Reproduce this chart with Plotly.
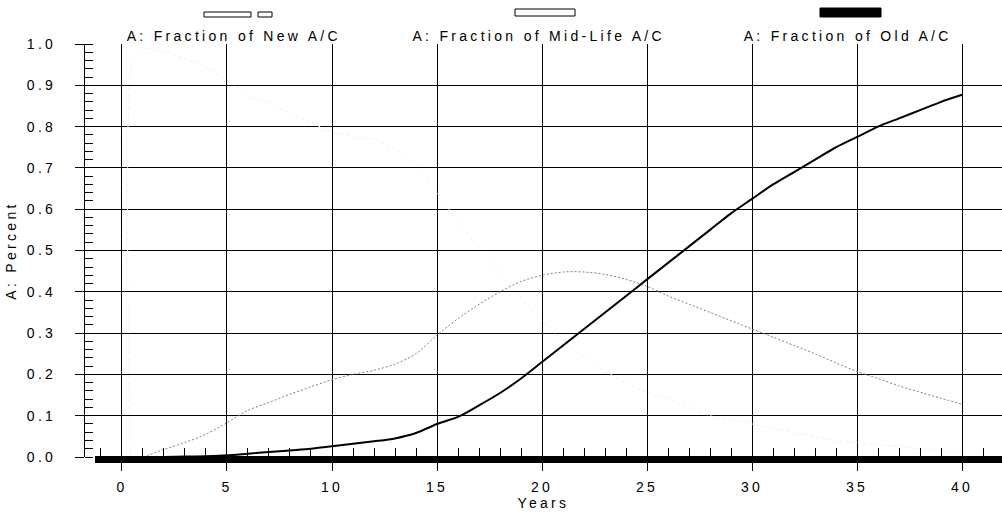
import plotly.graph_objects as go

# ---- data -------------------------------------------------------------
years = list(range(0, 41))

old_frac = [0.0, 0.0, 0.0, 0.001, 0.002, 0.004, 0.008, 0.012, 0.016, 0.020,
            0.026, 0.032, 0.038, 0.045, 0.058, 0.080, 0.097, 0.125, 0.155, 0.190,
            0.230, 0.270, 0.310, 0.350, 0.390, 0.430, 0.470, 0.510, 0.550, 0.590,
            0.625, 0.660, 0.690, 0.720, 0.750, 0.775, 0.800, 0.820, 0.840, 0.860,
            0.877]

mid_years = list(range(1, 41))
mid_frac = [0.000, 0.018, 0.035, 0.055, 0.083, 0.113, 0.132, 0.152, 0.170,
            0.187, 0.200, 0.210, 0.225, 0.250, 0.295, 0.335, 0.370, 0.400, 0.425,
            0.440, 0.448, 0.448, 0.442, 0.430, 0.413, 0.390, 0.370, 0.350, 0.330,
            0.310, 0.290, 0.270, 0.250, 0.228, 0.207, 0.190, 0.172, 0.157, 0.142,
            0.128]

new_years = [0.4, 0.5] + list(range(1, 41))
new_frac = [0.0, 0.96, 0.99, 0.982, 0.964, 0.943, 0.913, 0.877, 0.856, 0.832,
            0.810, 0.787, 0.778, 0.770, 0.745, 0.710, 0.640, 0.570, 0.505, 0.445,
            0.385, 0.330, 0.282, 0.242, 0.208, 0.180, 0.157, 0.140, 0.120, 0.100,
            0.090, 0.080, 0.070, 0.060, 0.050, 0.040, 0.035, 0.030, 0.025, 0.020,
            0.015, 0.010]

x_ticks = [0, 5, 10, 15, 20, 25, 30, 35, 40]
y_ticks = [0.0, 0.1, 0.2, 0.3, 0.4, 0.5, 0.6, 0.7, 0.8, 0.9, 1.0]

series_names = ["A: Fraction of New A/C",
                "A: Fraction of Mid-Life A/C",
                "A: Fraction of Old A/C"]

# ---- page geometry ----------------------------------------------------
W, H = 1002, 514
L, R, T, B = 85, 0, 44, 57
PW, PH = W - L - R, H - T - B


def px(xp):
    return (xp - L) / PW


def py(yp):
    return (H - B - yp) / PH


FONT = "Liberation Sans, Arial, Helvetica, sans-serif"
FS = 14

fig = go.Figure()

fig.add_trace(go.Scatter(
    x=new_years, y=new_frac, mode="lines", name=series_names[0],
    line=dict(color="#f2f2f2", width=1, dash="dot", shape="spline", smoothing=0.6),
    showlegend=False))
fig.add_trace(go.Scatter(
    x=mid_years, y=mid_frac, mode="lines", name=series_names[1],
    line=dict(color="#808080", width=1, dash="2px,2px", shape="spline", smoothing=0.8),
    showlegend=False))
fig.add_trace(go.Scatter(
    x=years, y=old_frac, mode="lines", name=series_names[2],
    line=dict(color="#000000", width=2, shape="spline", smoothing=0.8),
    showlegend=False))

shapes = []
# heavy base bar along the time axis
shapes.append(dict(type="rect", xref="paper", yref="paper",
                   x0=px(95), x1=1.01, y0=py(456), y1=py(463),
                   fillcolor="black", line=dict(width=0), layer="above"))

# legend keys above each label
shapes += [
    dict(type="rect", xref="paper", yref="paper", x0=px(204), x1=px(251),
         y0=py(17), y1=py(12), fillcolor="white", line=dict(color="black", width=1)),
    dict(type="rect", xref="paper", yref="paper", x0=px(258), x1=px(272),
         y0=py(17), y1=py(12), fillcolor="white", line=dict(color="black", width=1)),
    dict(type="rect", xref="paper", yref="paper", x0=px(515), x1=px(575),
         y0=py(16), y1=py(9), fillcolor="white", line=dict(color="black", width=1)),
    dict(type="rect", xref="paper", yref="paper", x0=px(820), x1=px(881),
         y0=py(17), y1=py(8), fillcolor="black", line=dict(color="black", width=1)),
]

annotations = []
for name, cx in zip(series_names, [234, 538, 847]):
    annotations.append(dict(text=name, xref="paper", yref="paper",
                            x=px(cx), y=py(36.5), xanchor="center", yanchor="middle",
                            showarrow=False, font=dict(family=FONT, size=FS, color="black")))

fig.update_layout(
    width=W, height=H,
    margin=dict(l=L, r=R, t=T, b=B, autoexpand=False),
    paper_bgcolor="white", plot_bgcolor="white",
    font=dict(family=FONT, size=FS, color="black"),
    shapes=shapes, annotations=annotations,
    showlegend=False,
)

fig.update_xaxes(
    range=[-1.76, 41.9], tickvals=x_ticks, ticktext=[str(v) for v in x_ticks],
    showgrid=True, gridcolor="black", gridwidth=1, zeroline=False, showline=False,
    ticks="outside", ticklen=13, tickwidth=1, tickcolor="black",
    ticklabelstandoff=4,
    minor=dict(ticks="inside", ticklen=9, tickwidth=1, tickcolor="black",
               dtick=1, tick0=0, showgrid=False),
    title=dict(text="Years", standoff=0, font=dict(family=FONT, size=FS)),
    automargin=False,
)
fig.update_yaxes(
    range=[0, 1.0], tickvals=y_ticks, tickformat=".1f",
    showgrid=True, gridcolor="black", gridwidth=1, zeroline=False,
    showline=True, linecolor="black", linewidth=1,
    ticks="outside", ticklen=9, tickwidth=1, tickcolor="black",
    ticklabelstandoff=16,
    minor=dict(ticks="inside", ticklen=8, tickwidth=1, tickcolor="black",
               dtick=0.02, tick0=0, showgrid=False),
    title=dict(text="A: Percent", standoff=16, font=dict(family=FONT, size=FS)),
    automargin=False,
)

# widen glyph spacing of all labels
spacing_js = ("document.querySelectorAll('svg text').forEach(function(t){"
              "t.style.letterSpacing='3.3px';});")

fig.write_html("out.html", post_script=spacing_js)
